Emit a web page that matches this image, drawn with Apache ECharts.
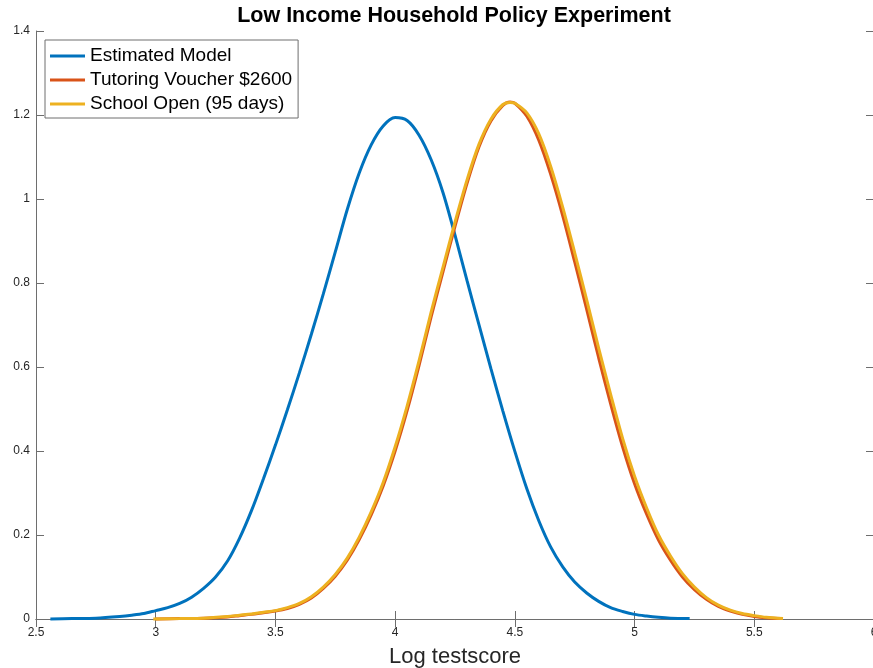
<!DOCTYPE html>
<html>
<head>
<meta charset="utf-8">
<title>Low Income Household Policy Experiment</title>
<script src="https://cdn.jsdelivr.net/npm/echarts@6/dist/echarts.min.js"></script>
<style>
  html, body { margin: 0; padding: 0; background: #fff; }
  #chart { width: 873px; height: 668px; }
</style>
</head>
<body>
<div id="chart"></div>
<script>
// Density of log test scores, baseline model vs two policy experiments
const seriesNames = ['Estimated Model', 'Tutoring Voucher $2600', 'School Open (95 days)'];

const xTicks = ['2.5', '3', '3.5', '4', '4.5', '5', '5.5', '6'];
const yTicks = ['0', '0.2', '0.4', '0.6', '0.8', '1', '1.2', '1.4'];

// Estimated Model
const modelX = [2.56, 2.65, 2.75, 2.85, 2.90, 2.95, 3.00, 3.05, 3.10, 3.15, 3.20, 3.25, 3.30, 3.35, 3.40,
  3.45, 3.50, 3.55, 3.60, 3.65, 3.70, 3.75, 3.80, 3.85, 3.90, 3.95, 4.00, 4.05, 4.10, 4.15, 4.20,
  4.25, 4.30, 4.35, 4.40, 4.45, 4.50, 4.55, 4.60, 4.65, 4.70, 4.75, 4.80, 4.85, 4.90, 4.95, 5.00,
  5.05, 5.10, 5.15, 5.23];
const modelY = [0.000, 0.001, 0.002, 0.006, 0.009, 0.013, 0.020, 0.027, 0.037, 0.052, 0.073, 0.100, 0.138, 0.192, 0.258,
  0.334, 0.414, 0.498, 0.586, 0.678, 0.774, 0.874, 0.975, 1.062, 1.129, 1.174, 1.194, 1.187, 1.152, 1.094, 1.015,
  0.914, 0.806, 0.701, 0.596, 0.495, 0.399, 0.310, 0.234, 0.171, 0.124, 0.088, 0.062, 0.042, 0.027, 0.018, 0.011,
  0.007, 0.004, 0.002, 0.001];

// Tutoring Voucher $2600
const voucherX = [3.00, 3.10, 3.20, 3.30, 3.35, 3.40, 3.45, 3.50, 3.55, 3.60, 3.65, 3.70, 3.75, 3.80, 3.85,
  3.90, 3.95, 4.00, 4.05, 4.10, 4.15, 4.20, 4.25, 4.30, 4.35, 4.40, 4.45, 4.48, 4.50, 4.55, 4.60,
  4.65, 4.70, 4.75, 4.80, 4.85, 4.90, 4.95, 5.00, 5.05, 5.10, 5.15, 5.20, 5.25, 5.30, 5.35, 5.40,
  5.45, 5.50, 5.55, 5.61];
const voucherY = [0.000, 0.001, 0.002, 0.005, 0.008, 0.011, 0.015, 0.019, 0.025, 0.035, 0.050, 0.073, 0.102, 0.140, 0.189,
  0.248, 0.317, 0.400, 0.496, 0.604, 0.719, 0.827, 0.935, 1.037, 1.124, 1.186, 1.223, 1.231, 1.228, 1.197, 1.140,
  1.058, 0.960, 0.850, 0.737, 0.622, 0.512, 0.410, 0.322, 0.250, 0.188, 0.140, 0.100, 0.070, 0.047, 0.030, 0.019,
  0.011, 0.006, 0.003, 0.001];

// School Open (95 days)
const schoolX = [2.99, 3.10, 3.20, 3.30, 3.35, 3.40, 3.45, 3.50, 3.55, 3.60, 3.65, 3.70, 3.75, 3.80, 3.85,
  3.90, 3.95, 4.00, 4.05, 4.10, 4.15, 4.20, 4.25, 4.30, 4.35, 4.40, 4.45, 4.48, 4.50, 4.55, 4.60,
  4.65, 4.70, 4.75, 4.80, 4.85, 4.90, 4.95, 5.00, 5.05, 5.10, 5.15, 5.20, 5.25, 5.30, 5.35, 5.40,
  5.45, 5.50, 5.55, 5.62];
const schoolY = [0.000, 0.001, 0.002, 0.006, 0.009, 0.012, 0.016, 0.020, 0.027, 0.037, 0.053, 0.076, 0.106, 0.145, 0.195,
  0.255, 0.325, 0.410, 0.507, 0.615, 0.730, 0.838, 0.945, 1.045, 1.130, 1.190, 1.225, 1.230, 1.228, 1.205, 1.155,
  1.077, 0.980, 0.872, 0.760, 0.645, 0.535, 0.430, 0.340, 0.265, 0.200, 0.150, 0.108, 0.076, 0.051, 0.033, 0.021,
  0.013, 0.008, 0.004, 0.001];

const colors = ['#0072BD', '#D95319', '#EDB120'];
const FONT = '"Liberation Sans", Arial, Helvetica, sans-serif';
const AXIS_COLOR = '#6e6e6e';
const LABEL_COLOR = '#262626';

function zip(xs, ys) { return xs.map((x, i) => [x, ys[i]]); }

const xMin = Number(xTicks[0]), xMax = Number(xTicks[xTicks.length - 1]);
const yMin = Number(yTicks[0]), yMax = Number(yTicks[yTicks.length - 1]);

const tickStyle = { show: true, inside: true, length: 8, lineStyle: { color: AXIS_COLOR, width: 1 } };
const lineStyleAxis = { show: true, lineStyle: { color: AXIS_COLOR, width: 1 } };

function labelFmt(v) { return String(Math.round(v * 10) / 10); }

const chart = echarts.init(document.getElementById('chart'), null, { renderer: 'canvas' });

chart.setOption({
  animation: false,
  backgroundColor: '#ffffff',
  color: colors,
  textStyle: { fontFamily: FONT },
  title: {
    text: 'Low Income Household Policy Experiment',
    left: 449,
    top: 0,
    textAlign: 'center',
    textStyle: { fontFamily: FONT, fontSize: 21.5, fontWeight: 'bold', color: '#000' }
  },
  legend: {
    left: 45,
    top: 40,
    orient: 'vertical',
    data: seriesNames,
    icon: 'rect',
    itemWidth: 35,
    itemHeight: 3,
    itemGap: 4,
    padding: [6, 6, 4, 5],
    backgroundColor: '#ffffff',
    borderColor: AXIS_COLOR,
    borderWidth: 1,
    borderRadius: 0,
    textStyle: { fontFamily: FONT, fontSize: 19, color: '#000', lineHeight: 20 }
  },
  grid: { left: 36, top: 31, width: 838, height: 588, containLabel: false, outerBoundsMode: 'none' },
  xAxis: [
    {
      type: 'value', min: xMin, max: xMax, interval: 0.5,
      position: 'bottom',
      name: 'Log testscore', nameLocation: 'middle', nameGap: 27,
      nameTextStyle: { fontFamily: FONT, fontSize: 22, color: LABEL_COLOR },
      axisLine: lineStyleAxis, axisTick: tickStyle, splitLine: { show: false },
      axisLabel: { show: true, margin: 8, fontSize: 12, color: LABEL_COLOR, fontFamily: FONT, formatter: labelFmt }
    },
    {
      type: 'value', min: xMin, max: xMax, interval: 0.5,
      position: 'top',
      axisLine: lineStyleAxis, axisTick: tickStyle, splitLine: { show: false },
      axisLabel: { show: false }
    }
  ],
  yAxis: [
    {
      type: 'value', min: yMin, max: yMax, interval: 0.2,
      position: 'left',
      axisLine: lineStyleAxis, axisTick: tickStyle, splitLine: { show: false },
      axisLabel: { show: true, margin: 6, fontSize: 12, color: LABEL_COLOR, fontFamily: FONT, formatter: labelFmt }
    },
    {
      type: 'value', min: yMin, max: yMax, interval: 0.2,
      position: 'right',
      axisLine: lineStyleAxis, axisTick: tickStyle, splitLine: { show: false },
      axisLabel: { show: false }
    }
  ],
  series: [
    { name: seriesNames[0], data: zip(modelX, modelY) },
    { name: seriesNames[1], data: zip(voucherX, voucherY) },
    { name: seriesNames[2], data: zip(schoolX, schoolY) }
  ].map((s, i) => ({
    name: s.name,
    type: 'line',
    xAxisIndex: 0,
    yAxisIndex: 0,
    data: s.data,
    symbol: 'none',
    showSymbol: false,
    smooth: 0.3,
    clip: false,
    z: 2 + i,
    lineStyle: { color: colors[i], width: 3 },
    itemStyle: { color: colors[i] },
    emphasis: { disabled: true }
  }))
});
</script>
</body>
</html>
